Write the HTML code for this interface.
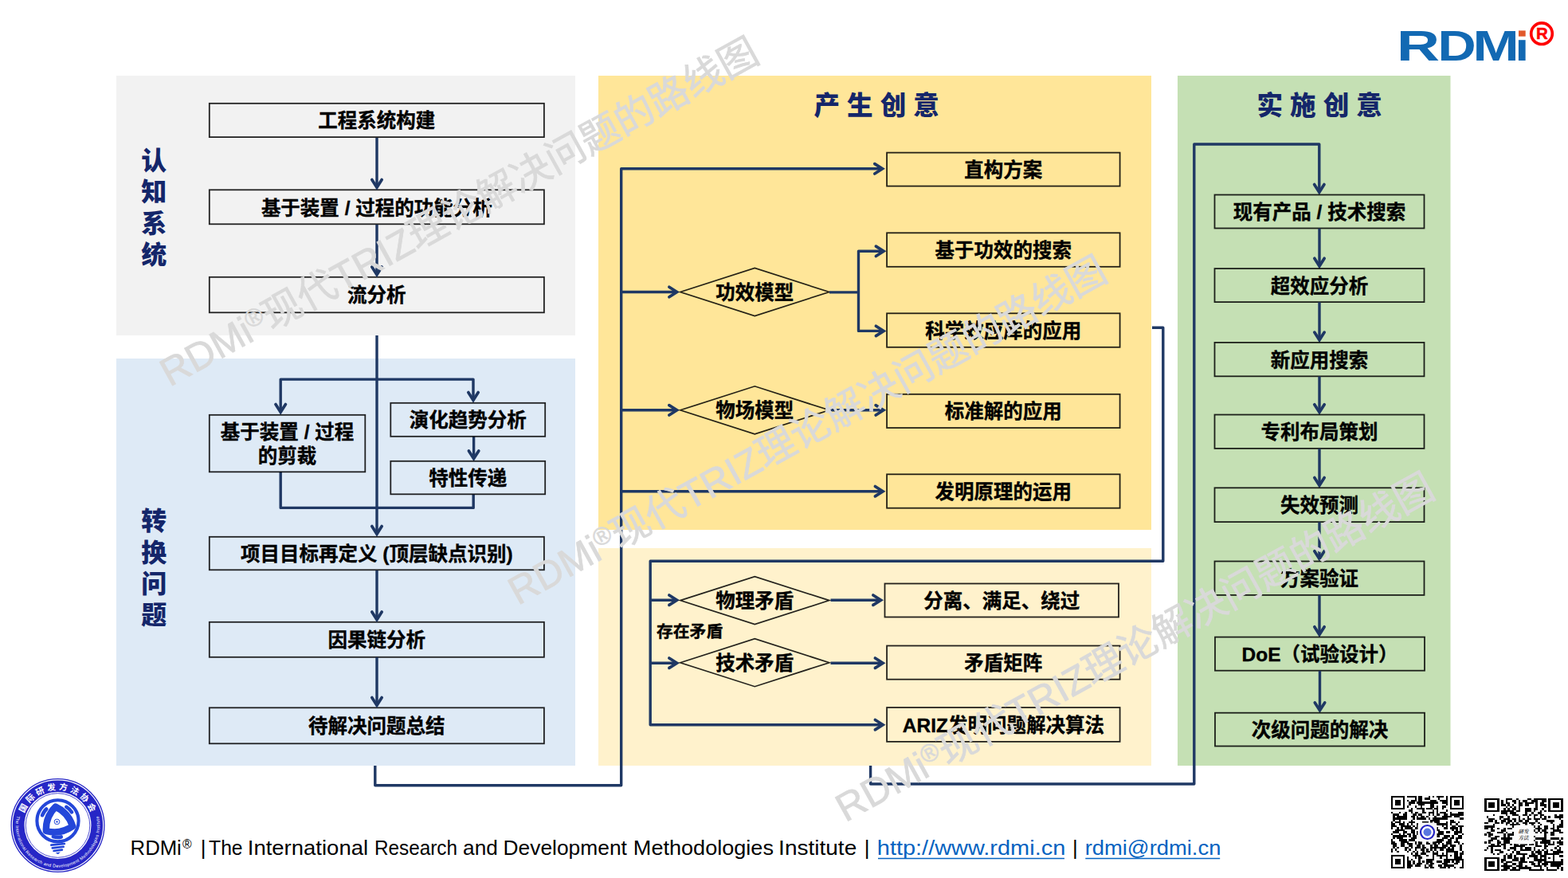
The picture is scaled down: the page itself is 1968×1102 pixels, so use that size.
<!DOCTYPE html>
<html lang="zh-CN">
<head>
<meta charset="utf-8">
<title>RDMi 现代TRIZ理论解决问题的路线图</title>
<style>
html,body{margin:0;padding:0;background:#fff;}
body{width:1968px;height:1102px;overflow:hidden;position:relative;}
svg{display:block;position:absolute;left:0;top:0;}
.bt{font-family:"Liberation Sans", "Noto Sans CJK SC", sans-serif;font-weight:bold;fill:#000;stroke:#000;stroke-width:0.35px;}
.tt{font-family:"Liberation Sans", "Noto Sans CJK SC", sans-serif;font-weight:900;font-size:32px;fill:#14266a;}
.wm{font-family:"Liberation Sans", "Noto Sans CJK SC", sans-serif;font-weight:normal;fill:#d9d9d9;stroke:#d9d9d9;stroke-width:0.7px;}
.logo{font-family:"Liberation Sans", sans-serif;font-weight:bold;fill:#1269b3;}
.ft{font-family:"Liberation Sans", sans-serif;font-size:25px;fill:#000;}
.lk{fill:#0563c1;}
</style>
</head>
<body>
<svg width="1968" height="1102" viewBox="0 0 1968 1102">
<rect width="1968" height="1102" fill="#ffffff"/>
<!-- diagram -->
<rect x="146" y="95" width="576" height="326" fill="#f2f2f2"/>
<rect x="146" y="450" width="576" height="511" fill="#deeaf6"/>
<rect x="751" y="95" width="694" height="570" fill="#ffe699"/>
<rect x="751" y="688" width="694" height="273" fill="#fff2cc"/>
<rect x="1478" y="95" width="342.5" height="866" fill="#c5e0b4"/>
<rect x="262.80" y="129.80" width="420.10" height="42.30" fill="none" stroke="#000" stroke-opacity="0.86" stroke-width="1.8"/>
<text x="472.85" y="160.4" text-anchor="middle" class="bt" font-size="24.5">工程系统构建</text>
<rect x="262.80" y="238.30" width="420.10" height="43.00" fill="none" stroke="#000" stroke-opacity="0.86" stroke-width="1.8"/>
<text x="472.85" y="270.1" text-anchor="middle" class="bt" font-size="24.5">基于装置 / 过程的功能分析</text>
<rect x="262.80" y="347.80" width="420.10" height="44.50" fill="none" stroke="#000" stroke-opacity="0.86" stroke-width="1.8"/>
<text x="472.85" y="378.5" text-anchor="middle" class="bt" font-size="24.5">流分析</text>
<path d="M473 173 L473 234.7" fill="none" stroke="#1f3864" stroke-width="3.4" stroke-linejoin="round"/>
<path d="M466.80 225.50 L473.00 235.20 L479.20 225.50" fill="none" stroke="#1f3864" stroke-width="3.7" stroke-linecap="round" stroke-linejoin="miter"/>
<path d="M473 282 L473 344.2" fill="none" stroke="#1f3864" stroke-width="3.4" stroke-linejoin="round"/>
<path d="M466.80 335.00 L473.00 344.70 L479.20 335.00" fill="none" stroke="#1f3864" stroke-width="3.7" stroke-linecap="round" stroke-linejoin="miter"/>
<path d="M473 421 L473 669.7" fill="none" stroke="#1f3864" stroke-width="3.4" stroke-linejoin="round"/>
<path d="M466.80 660.50 L473.00 670.20 L479.20 660.50" fill="none" stroke="#1f3864" stroke-width="3.7" stroke-linecap="round" stroke-linejoin="miter"/>
<path d="M473 476.1 L352.2 476.1 L352.2 516.7" fill="none" stroke="#1f3864" stroke-width="3.4" stroke-linejoin="round"/>
<path d="M346.00 507.50 L352.20 517.20 L358.40 507.50" fill="none" stroke="#1f3864" stroke-width="3.7" stroke-linecap="round" stroke-linejoin="miter"/>
<path d="M473 476.1 L594 476.1 L594 501.7" fill="none" stroke="#1f3864" stroke-width="3.4" stroke-linejoin="round"/>
<path d="M587.80 492.50 L594.00 502.20 L600.20 492.50" fill="none" stroke="#1f3864" stroke-width="3.7" stroke-linecap="round" stroke-linejoin="miter"/>
<path d="M594.6 548 L594.6 575.1" fill="none" stroke="#1f3864" stroke-width="3.4" stroke-linejoin="round"/>
<path d="M588.40 565.90 L594.60 575.60 L600.80 565.90" fill="none" stroke="#1f3864" stroke-width="3.7" stroke-linecap="round" stroke-linejoin="miter"/>
<path d="M352.2 592 L352.2 637.4 L594.2 637.4 L594.2 620.5" fill="none" stroke="#1f3864" stroke-width="3.4" stroke-linejoin="round"/>
<rect x="262.80" y="520.80" width="195.50" height="71.50" fill="none" stroke="#000" stroke-opacity="0.86" stroke-width="1.8"/>
<text x="360.55" y="551.2" text-anchor="middle" class="bt" font-size="24.5">基于装置 / 过程</text>
<text x="360.55" y="580.8" text-anchor="middle" class="bt" font-size="24.5">的剪裁</text>
<rect x="490.30" y="505.80" width="193.90" height="42.00" fill="none" stroke="#000" stroke-opacity="0.86" stroke-width="1.8"/>
<text x="587.25" y="536.3" text-anchor="middle" class="bt" font-size="24.5">演化趋势分析</text>
<rect x="490.30" y="578.80" width="193.90" height="41.50" fill="none" stroke="#000" stroke-opacity="0.86" stroke-width="1.8"/>
<text x="587.25" y="609.0" text-anchor="middle" class="bt" font-size="24.5">特性传递</text>
<rect x="262.80" y="673.80" width="420.10" height="41.50" fill="none" stroke="#000" stroke-opacity="0.86" stroke-width="1.8"/>
<text x="472.85" y="704.3" text-anchor="middle" class="bt" font-size="24.5">项目目标再定义 (顶层缺点识别)</text>
<rect x="262.80" y="780.80" width="420.10" height="44.00" fill="none" stroke="#000" stroke-opacity="0.86" stroke-width="1.8"/>
<text x="472.85" y="811.7" text-anchor="middle" class="bt" font-size="24.5">因果链分析</text>
<rect x="262.80" y="888.30" width="420.10" height="45.00" fill="none" stroke="#000" stroke-opacity="0.86" stroke-width="1.8"/>
<text x="472.85" y="920.3" text-anchor="middle" class="bt" font-size="24.5">待解决问题总结</text>
<path d="M473 716 L473 777.2" fill="none" stroke="#1f3864" stroke-width="3.4" stroke-linejoin="round"/>
<path d="M466.80 768.00 L473.00 777.70 L479.20 768.00" fill="none" stroke="#1f3864" stroke-width="3.7" stroke-linecap="round" stroke-linejoin="miter"/>
<path d="M473 825 L473 884.7" fill="none" stroke="#1f3864" stroke-width="3.4" stroke-linejoin="round"/>
<path d="M466.80 875.50 L473.00 885.20 L479.20 875.50" fill="none" stroke="#1f3864" stroke-width="3.7" stroke-linecap="round" stroke-linejoin="miter"/>
<path d="M470.8 961 L470.8 985.7 L779.7 985.7 L779.7 211.8 L1107.0 211.8" fill="none" stroke="#1f3864" stroke-width="3.4" stroke-linejoin="round"/>
<path d="M1097.80 205.60 L1107.50 211.80 L1097.80 218.00" fill="none" stroke="#1f3864" stroke-width="3.7" stroke-linecap="round" stroke-linejoin="miter"/>
<path d="M779.7 366.5 L849.1 366.5" fill="none" stroke="#1f3864" stroke-width="3.4" stroke-linejoin="round"/>
<path d="M839.90 360.30 L849.60 366.50 L839.90 372.70" fill="none" stroke="#1f3864" stroke-width="3.7" stroke-linecap="round" stroke-linejoin="miter"/>
<path d="M779.7 514.8 L849.1 514.8" fill="none" stroke="#1f3864" stroke-width="3.4" stroke-linejoin="round"/>
<path d="M839.90 508.60 L849.60 514.80 L839.90 521.00" fill="none" stroke="#1f3864" stroke-width="3.7" stroke-linecap="round" stroke-linejoin="miter"/>
<path d="M779.7 616.7 L1107.6000000000001 616.7" fill="none" stroke="#1f3864" stroke-width="3.4" stroke-linejoin="round"/>
<path d="M1098.40 610.50 L1108.10 616.70 L1098.40 622.90" fill="none" stroke="#1f3864" stroke-width="3.7" stroke-linecap="round" stroke-linejoin="miter"/>
<path d="M853.8 366.5 L947.3 336.5 L1040.8 366.5 L947.3 396.5 Z" fill="none" stroke="#000" stroke-opacity="0.86" stroke-width="1.7"/>
<text x="947.3" y="376.0" text-anchor="middle" class="bt" font-size="24.5">功效模型</text>
<path d="M853.8 514.8 L947.3 484.79999999999995 L1040.8 514.8 L947.3 544.8 Z" fill="none" stroke="#000" stroke-opacity="0.86" stroke-width="1.7"/>
<text x="947.3" y="524.3" text-anchor="middle" class="bt" font-size="24.5">物场模型</text>
<path d="M1041 366.9 L1077.5 366.9" fill="none" stroke="#1f3864" stroke-width="3.4" stroke-linejoin="round"/>
<path d="M1077.5 366.9 L1077.5 315.3 L1108.6000000000001 315.3" fill="none" stroke="#1f3864" stroke-width="3.4" stroke-linejoin="round"/>
<path d="M1099.40 309.10 L1109.10 315.30 L1099.40 321.50" fill="none" stroke="#1f3864" stroke-width="3.7" stroke-linecap="round" stroke-linejoin="miter"/>
<path d="M1077.5 366.9 L1077.5 415.4 L1108.6000000000001 415.4" fill="none" stroke="#1f3864" stroke-width="3.4" stroke-linejoin="round"/>
<path d="M1099.40 409.20 L1109.10 415.40 L1099.40 421.60" fill="none" stroke="#1f3864" stroke-width="3.7" stroke-linecap="round" stroke-linejoin="miter"/>
<path d="M1041 514.8 L1108.4 514.8" fill="none" stroke="#1f3864" stroke-width="3.4" stroke-linejoin="round"/>
<path d="M1099.20 508.60 L1108.90 514.80 L1099.20 521.00" fill="none" stroke="#1f3864" stroke-width="3.7" stroke-linecap="round" stroke-linejoin="miter"/>
<rect x="1113.10" y="191.60" width="292.50" height="42.00" fill="none" stroke="#000" stroke-opacity="0.86" stroke-width="1.8"/>
<text x="1259.35" y="222.1" text-anchor="middle" class="bt" font-size="24.5">直构方案</text>
<rect x="1113.10" y="292.30" width="292.50" height="42.50" fill="none" stroke="#000" stroke-opacity="0.86" stroke-width="1.8"/>
<text x="1259.35" y="323.0" text-anchor="middle" class="bt" font-size="24.5">基于功效的搜索</text>
<rect x="1113.10" y="393.30" width="292.50" height="42.50" fill="none" stroke="#000" stroke-opacity="0.86" stroke-width="1.8"/>
<text x="1259.35" y="424.0" text-anchor="middle" class="bt" font-size="24.5">科学效应库的应用</text>
<rect x="1113.10" y="494.80" width="292.50" height="42.20" fill="none" stroke="#000" stroke-opacity="0.86" stroke-width="1.8"/>
<text x="1259.35" y="525.4" text-anchor="middle" class="bt" font-size="24.5">标准解的应用</text>
<rect x="1113.10" y="595.30" width="292.50" height="42.40" fill="none" stroke="#000" stroke-opacity="0.86" stroke-width="1.8"/>
<text x="1259.35" y="626.0" text-anchor="middle" class="bt" font-size="24.5">发明原理的运用</text>
<path d="M1446 411.3 L1459.8 411.3 L1459.8 704.3 L816.2 704.3 L816.2 909.7 L1107.6000000000001 909.7" fill="none" stroke="#1f3864" stroke-width="3.4" stroke-linejoin="round"/>
<path d="M1098.40 903.50 L1108.10 909.70 L1098.40 915.90" fill="none" stroke="#1f3864" stroke-width="3.7" stroke-linecap="round" stroke-linejoin="miter"/>
<path d="M816.2 753.2 L849.1 753.2" fill="none" stroke="#1f3864" stroke-width="3.4" stroke-linejoin="round"/>
<path d="M839.90 747.00 L849.60 753.20 L839.90 759.40" fill="none" stroke="#1f3864" stroke-width="3.7" stroke-linecap="round" stroke-linejoin="miter"/>
<path d="M816.2 832.2 L849.1 832.2" fill="none" stroke="#1f3864" stroke-width="3.4" stroke-linejoin="round"/>
<path d="M839.90 826.00 L849.60 832.20 L839.90 838.40" fill="none" stroke="#1f3864" stroke-width="3.7" stroke-linecap="round" stroke-linejoin="miter"/>
<path d="M853.8 753.6 L947.3 723.6 L1040.8 753.6 L947.3 783.6 Z" fill="none" stroke="#000" stroke-opacity="0.86" stroke-width="1.7"/>
<text x="947.3" y="763.1" text-anchor="middle" class="bt" font-size="24.5">物理矛盾</text>
<path d="M853.8 831.7 L947.3 801.7 L1040.8 831.7 L947.3 861.7 Z" fill="none" stroke="#000" stroke-opacity="0.86" stroke-width="1.7"/>
<text x="947.3" y="841.2" text-anchor="middle" class="bt" font-size="24.5">技术矛盾</text>
<path d="M1042.5 753.2 L1105.1000000000001 753.2" fill="none" stroke="#1f3864" stroke-width="3.4" stroke-linejoin="round"/>
<path d="M1095.90 747.00 L1105.60 753.20 L1095.90 759.40" fill="none" stroke="#1f3864" stroke-width="3.7" stroke-linecap="round" stroke-linejoin="miter"/>
<path d="M1042.5 832.2 L1107.6000000000001 832.2" fill="none" stroke="#1f3864" stroke-width="3.4" stroke-linejoin="round"/>
<path d="M1098.40 826.00 L1108.10 832.20 L1098.40 838.40" fill="none" stroke="#1f3864" stroke-width="3.7" stroke-linecap="round" stroke-linejoin="miter"/>
<text x="824" y="800" class="bt" font-size="20.8">存在矛盾</text>
<rect x="1110.50" y="732.50" width="293.50" height="42.00" fill="none" stroke="#000" stroke-opacity="0.86" stroke-width="1.8"/>
<text x="1257.25" y="763.0" text-anchor="middle" class="bt" font-size="24.5">分离、满足、绕过</text>
<rect x="1113.10" y="810.50" width="292.50" height="42.20" fill="none" stroke="#000" stroke-opacity="0.86" stroke-width="1.8"/>
<text x="1259.35" y="841.1" text-anchor="middle" class="bt" font-size="24.5">矛盾矩阵</text>
<rect x="1113.10" y="888.00" width="292.50" height="42.90" fill="none" stroke="#000" stroke-opacity="0.86" stroke-width="1.8"/>
<text x="1259.35" y="918.9" text-anchor="middle" class="bt" font-size="24.5">ARIZ发明问题解决算法</text>
<path d="M1092.6 961 L1092.6 984 L1498.8 984 L1498.8 181 L1655.8 181 L1655.8 240.7" fill="none" stroke="#1f3864" stroke-width="3.4" stroke-linejoin="round"/>
<path d="M1649.60 231.50 L1655.80 241.20 L1662.00 231.50" fill="none" stroke="#1f3864" stroke-width="3.7" stroke-linecap="round" stroke-linejoin="miter"/>
<rect x="1524.50" y="244.50" width="263.00" height="42.00" fill="none" stroke="#000" stroke-opacity="0.86" stroke-width="1.8"/>
<text x="1656.0" y="275.0" text-anchor="middle" class="bt" font-size="24.5">现有产品 / 技术搜索</text>
<path d="M1656 286.7 L1656 333.5" fill="none" stroke="#1f3864" stroke-width="3.4" stroke-linejoin="round"/>
<path d="M1649.80 324.30 L1656.00 334.00 L1662.20 324.30" fill="none" stroke="#1f3864" stroke-width="3.7" stroke-linecap="round" stroke-linejoin="miter"/>
<rect x="1524.50" y="337.10" width="263.00" height="42.00" fill="none" stroke="#000" stroke-opacity="0.86" stroke-width="1.8"/>
<text x="1656.0" y="367.6" text-anchor="middle" class="bt" font-size="24.5">超效应分析</text>
<path d="M1656 379.3 L1656 426.3" fill="none" stroke="#1f3864" stroke-width="3.4" stroke-linejoin="round"/>
<path d="M1649.80 417.10 L1656.00 426.80 L1662.20 417.10" fill="none" stroke="#1f3864" stroke-width="3.7" stroke-linecap="round" stroke-linejoin="miter"/>
<rect x="1524.50" y="429.90" width="263.00" height="42.40" fill="none" stroke="#000" stroke-opacity="0.86" stroke-width="1.8"/>
<text x="1656.0" y="460.6" text-anchor="middle" class="bt" font-size="24.5">新应用搜索</text>
<path d="M1656 472.5 L1656 516.9000000000001" fill="none" stroke="#1f3864" stroke-width="3.4" stroke-linejoin="round"/>
<path d="M1649.80 507.70 L1656.00 517.40 L1662.20 507.70" fill="none" stroke="#1f3864" stroke-width="3.7" stroke-linecap="round" stroke-linejoin="miter"/>
<rect x="1524.50" y="520.50" width="263.00" height="42.40" fill="none" stroke="#000" stroke-opacity="0.86" stroke-width="1.8"/>
<text x="1656.0" y="551.2" text-anchor="middle" class="bt" font-size="24.5">专利布局策划</text>
<path d="M1656 563.1 L1656 608.7" fill="none" stroke="#1f3864" stroke-width="3.4" stroke-linejoin="round"/>
<path d="M1649.80 599.50 L1656.00 609.20 L1662.20 599.50" fill="none" stroke="#1f3864" stroke-width="3.7" stroke-linecap="round" stroke-linejoin="miter"/>
<rect x="1524.50" y="612.30" width="263.00" height="42.80" fill="none" stroke="#000" stroke-opacity="0.86" stroke-width="1.8"/>
<text x="1656.0" y="643.2" text-anchor="middle" class="bt" font-size="24.5">失效预测</text>
<path d="M1656 655.3 L1656 700.9000000000001" fill="none" stroke="#1f3864" stroke-width="3.4" stroke-linejoin="round"/>
<path d="M1649.80 691.70 L1656.00 701.40 L1662.20 691.70" fill="none" stroke="#1f3864" stroke-width="3.7" stroke-linecap="round" stroke-linejoin="miter"/>
<rect x="1524.50" y="704.50" width="263.00" height="42.40" fill="none" stroke="#000" stroke-opacity="0.86" stroke-width="1.8"/>
<text x="1656.0" y="735.2" text-anchor="middle" class="bt" font-size="24.5">方案验证</text>
<path d="M1656 747.1 L1656 796.0" fill="none" stroke="#1f3864" stroke-width="3.4" stroke-linejoin="round"/>
<path d="M1649.80 786.80 L1656.00 796.50 L1662.20 786.80" fill="none" stroke="#1f3864" stroke-width="3.7" stroke-linecap="round" stroke-linejoin="miter"/>
<rect x="1525.00" y="799.60" width="263.00" height="42.10" fill="none" stroke="#000" stroke-opacity="0.86" stroke-width="1.8"/>
<text x="1656.5" y="830.1" text-anchor="middle" class="bt" font-size="24.5">DoE（试验设计）</text>
<path d="M1656.5 841.9 L1656.5 891.1" fill="none" stroke="#1f3864" stroke-width="3.4" stroke-linejoin="round"/>
<path d="M1650.30 881.90 L1656.50 891.60 L1662.70 881.90" fill="none" stroke="#1f3864" stroke-width="3.7" stroke-linecap="round" stroke-linejoin="miter"/>
<rect x="1525.00" y="894.70" width="263.00" height="41.80" fill="none" stroke="#000" stroke-opacity="0.86" stroke-width="1.8"/>
<text x="1656.5" y="925.1" text-anchor="middle" class="bt" font-size="24.5">次级问题的解决</text>
<text x="193.3" y="212.7" text-anchor="middle" class="tt">认</text>
<text x="193.3" y="252.1" text-anchor="middle" class="tt">知</text>
<text x="193.3" y="291.5" text-anchor="middle" class="tt">系</text>
<text x="193.3" y="330.9" text-anchor="middle" class="tt">统</text>
<text x="193.3" y="665.2" text-anchor="middle" class="tt">转</text>
<text x="193.3" y="704.6" text-anchor="middle" class="tt">换</text>
<text x="193.3" y="744.0" text-anchor="middle" class="tt">问</text>
<text x="193.3" y="783.4" text-anchor="middle" class="tt">题</text>
<text x="1100.2" y="143.8" text-anchor="middle" class="tt" style="white-space:pre;font-size:32.6px">产 生 创 意</text>
<text x="1656.2" y="143.8" text-anchor="middle" class="tt" style="white-space:pre;font-size:32.6px">实 施 创 意</text>
<!-- logo -->
<g>
<text y="75.7" class="logo" font-size="54.2"><tspan x="1752.99" textLength="54.04" lengthAdjust="spacingAndGlyphs">R</tspan><tspan x="1804.44" textLength="48.16" lengthAdjust="spacingAndGlyphs">D</tspan><tspan x="1848.63" textLength="58.14" lengthAdjust="spacingAndGlyphs">M</tspan><tspan x="1901.57" textLength="17.62" lengthAdjust="spacingAndGlyphs">i</tspan></text>
<rect x="1904.5" y="34" width="12" height="16.2" fill="#fff"/>
<rect x="1906" y="38.4" width="8.7" height="7.3" fill="#e1582a"/>
<circle cx="1935" cy="42.2" r="13.3" fill="none" stroke="#ff0000" stroke-width="3.7"/>
<text x="1935.3" y="48.9" text-anchor="middle" font-family="'Liberation Sans', sans-serif" font-weight="bold" font-size="20.5" fill="#ff0000" stroke="#ff0000" stroke-width="0.5">R</text>
</g>
<!-- emblem -->
<g>
<circle cx="72.5" cy="1036" r="58.4" fill="#fff" stroke="#2626c6" stroke-width="1.3"/>
<circle cx="72.5" cy="1036" r="49.3" fill="none" stroke="#2626c6" stroke-width="14.6"/>
<circle cx="72.5" cy="1036" r="40.3" fill="none" stroke="#2626c6" stroke-width="0.8"/>
<defs><path id="arcT" d="M27.90 1036.00 A44.6 44.6 0 0 1 117.10 1036.00"/><path id="arcB" d="M22.98 1017.98 A52.7 52.7 0 1 0 122.02 1017.98"/></defs>
<text font-family='"Liberation Sans", "Noto Sans CJK SC", sans-serif' font-weight="bold" font-size="10.6" fill="#fff" letter-spacing="3.3"><textPath href="#arcT" startOffset="50.8%" text-anchor="middle">国际研发方法协会</textPath></text>
<text font-family="'Liberation Sans', sans-serif" font-size="5.5" fill="#fff" letter-spacing="0.3"><textPath href="#arcB" startOffset="50%" text-anchor="middle">The International Research and Development Methodologies Institute</textPath></text>
<circle cx="72.5" cy="1030.3" r="26.1" fill="none" stroke="#2447d9" stroke-width="4.1"/>
<path d="M72.9 1012.4 A40 40 0 0 1 89.7 1040.2 A40 40 0 0 1 55.9 1040.2 A40 40 0 0 1 72.9 1012.4 Z" fill="none" stroke="#2447d9" stroke-width="8.4" stroke-linejoin="round" transform="rotate(-10 72.5 1030.3)"/>
<path d="M53.14 1023.25 A20.6 20.6 0 0 1 58.19 1015.48" fill="none" stroke="#2447d9" stroke-width="4.6" stroke-linecap="round"/>
<path d="M83.42 1012.83 A20.6 20.6 0 0 1 89.97 1019.38" fill="none" stroke="#2447d9" stroke-width="4.6" stroke-linecap="round"/>
<path d="M76.78 1050.45 A20.6 20.6 0 0 1 66.82 1050.10" fill="none" stroke="#2447d9" stroke-width="4.6" stroke-linecap="round"/>
<circle cx="71.5" cy="1031.4" r="3.3" fill="#fff" stroke="#2447d9" stroke-width="1"/>
<circle cx="71.5" cy="1031.4" r="1.2" fill="#2447d9"/>
<path d="M64.3 1060.6 l16.6 -1.6 M65.7 1064.4 l14 -1.6 M67.5 1068 l10.4 -1.4" stroke="#2447d9" stroke-width="2.6" stroke-linecap="round" fill="none"/>
<path d="M69.5 1070.2 l6.4 -0.8 l-3 2.8 z" fill="#2447d9"/>
</g>
<!-- footer -->
<text class="ft"><tspan x="163.59" y="1073.4" textLength="64.24" lengthAdjust="spacingAndGlyphs">RDMi</tspan> <tspan x="229.06" y="1064.8" font-size="15.72">®</tspan> <tspan x="251.72" y="1072.8" font-size="26">|</tspan> <tspan x="262.05" y="1073.4" textLength="42.55" lengthAdjust="spacingAndGlyphs">The</tspan> <tspan x="310.76" y="1073.4" textLength="151.38" lengthAdjust="spacingAndGlyphs">International</tspan> <tspan x="469.91" y="1073.4" textLength="104.07" lengthAdjust="spacingAndGlyphs">Research</tspan> <tspan x="581.09" y="1073.4" textLength="43.70" lengthAdjust="spacingAndGlyphs">and</tspan> <tspan x="631.54" y="1073.4" textLength="155.36" lengthAdjust="spacingAndGlyphs">Development</tspan> <tspan x="794.88" y="1073.4" textLength="176.10" lengthAdjust="spacingAndGlyphs">Methodologies</tspan> <tspan x="977.11" y="1073.4" textLength="98.13" lengthAdjust="spacingAndGlyphs">Institute</tspan> <tspan x="1084.72" y="1072.8" font-size="26">|</tspan> <tspan x="1100.81" y="1073.4" class="lk" textLength="236.46" lengthAdjust="spacingAndGlyphs">http://www.rdmi.cn</tspan> <tspan x="1345.97" y="1072.8" font-size="26">|</tspan> <tspan x="1361.68" y="1073.4" class="lk" textLength="170.69" lengthAdjust="spacingAndGlyphs">rdmi@rdmi.cn</tspan></text>
<path d="M1102 1077.4H1336 M1362.3 1077.4H1531.2" stroke="#0563c1" stroke-width="1.5" fill="none"/>
<!-- qr -->
<g>
<path d="M1746.00 999.00h17.22v2.46h-17.22zM1765.68 999.00h12.30v2.46h-12.30zM1780.43 999.00h4.92v2.46h-4.92zM1792.73 999.00h2.46v2.46h-2.46zM1797.65 999.00h2.46v2.46h-2.46zM1802.57 999.00h9.84v2.46h-9.84zM1814.86 999.00h2.46v2.46h-2.46zM1819.78 999.00h17.22v2.46h-17.22zM1746.00 1001.46h2.46v2.46h-2.46zM1760.76 1001.46h2.46v2.46h-2.46zM1775.51 1001.46h2.46v2.46h-2.46zM1780.43 1001.46h4.92v2.46h-4.92zM1787.81 1001.46h7.38v2.46h-7.38zM1805.03 1001.46h2.46v2.46h-2.46zM1814.86 1001.46h2.46v2.46h-2.46zM1819.78 1001.46h2.46v2.46h-2.46zM1834.54 1001.46h2.46v2.46h-2.46zM1746.00 1003.92h2.46v2.46h-2.46zM1750.92 1003.92h7.38v2.46h-7.38zM1760.76 1003.92h2.46v2.46h-2.46zM1765.68 1003.92h2.46v2.46h-2.46zM1770.59 1003.92h7.38v2.46h-7.38zM1780.43 1003.92h4.92v2.46h-4.92zM1795.19 1003.92h7.38v2.46h-7.38zM1807.49 1003.92h9.84v2.46h-9.84zM1819.78 1003.92h2.46v2.46h-2.46zM1824.70 1003.92h7.38v2.46h-7.38zM1834.54 1003.92h2.46v2.46h-2.46zM1746.00 1006.38h2.46v2.46h-2.46zM1750.92 1006.38h7.38v2.46h-7.38zM1760.76 1006.38h2.46v2.46h-2.46zM1768.14 1006.38h7.38v2.46h-7.38zM1777.97 1006.38h27.05v2.46h-27.05zM1809.95 1006.38h7.38v2.46h-7.38zM1819.78 1006.38h2.46v2.46h-2.46zM1824.70 1006.38h7.38v2.46h-7.38zM1834.54 1006.38h2.46v2.46h-2.46zM1746.00 1008.84h2.46v2.46h-2.46zM1750.92 1008.84h7.38v2.46h-7.38zM1760.76 1008.84h2.46v2.46h-2.46zM1768.14 1008.84h2.46v2.46h-2.46zM1780.43 1008.84h7.38v2.46h-7.38zM1795.19 1008.84h4.92v2.46h-4.92zM1814.86 1008.84h2.46v2.46h-2.46zM1819.78 1008.84h2.46v2.46h-2.46zM1824.70 1008.84h7.38v2.46h-7.38zM1834.54 1008.84h2.46v2.46h-2.46zM1746.00 1011.30h2.46v2.46h-2.46zM1760.76 1011.30h2.46v2.46h-2.46zM1765.68 1011.30h2.46v2.46h-2.46zM1775.51 1011.30h2.46v2.46h-2.46zM1782.89 1011.30h2.46v2.46h-2.46zM1795.19 1011.30h4.92v2.46h-4.92zM1802.57 1011.30h2.46v2.46h-2.46zM1809.95 1011.30h4.92v2.46h-4.92zM1819.78 1011.30h2.46v2.46h-2.46zM1834.54 1011.30h2.46v2.46h-2.46zM1746.00 1013.76h17.22v2.46h-17.22zM1770.59 1013.76h2.46v2.46h-2.46zM1777.97 1013.76h9.84v2.46h-9.84zM1790.27 1013.76h7.38v2.46h-7.38zM1800.11 1013.76h4.92v2.46h-4.92zM1809.95 1013.76h2.46v2.46h-2.46zM1819.78 1013.76h17.22v2.46h-17.22zM1768.14 1016.22h4.92v2.46h-4.92zM1785.35 1016.22h2.46v2.46h-2.46zM1797.65 1016.22h2.46v2.46h-2.46zM1802.57 1016.22h2.46v2.46h-2.46zM1814.86 1016.22h2.46v2.46h-2.46zM1746.00 1018.68h2.46v2.46h-2.46zM1755.84 1018.68h2.46v2.46h-2.46zM1763.22 1018.68h2.46v2.46h-2.46zM1770.59 1018.68h2.46v2.46h-2.46zM1775.51 1018.68h4.92v2.46h-4.92zM1785.35 1018.68h4.92v2.46h-4.92zM1792.73 1018.68h7.38v2.46h-7.38zM1802.57 1018.68h2.46v2.46h-2.46zM1807.49 1018.68h7.38v2.46h-7.38zM1819.78 1018.68h2.46v2.46h-2.46zM1829.62 1018.68h7.38v2.46h-7.38zM1748.46 1021.14h7.38v2.46h-7.38zM1760.76 1021.14h4.92v2.46h-4.92zM1773.05 1021.14h4.92v2.46h-4.92zM1780.43 1021.14h4.92v2.46h-4.92zM1792.73 1021.14h2.46v2.46h-2.46zM1797.65 1021.14h2.46v2.46h-2.46zM1802.57 1021.14h4.92v2.46h-4.92zM1812.41 1021.14h4.92v2.46h-4.92zM1819.78 1021.14h17.22v2.46h-17.22zM1748.46 1023.59h2.46v2.46h-2.46zM1753.38 1023.59h12.30v2.46h-12.30zM1770.59 1023.59h4.92v2.46h-4.92zM1777.97 1023.59h2.46v2.46h-2.46zM1782.89 1023.59h4.92v2.46h-4.92zM1790.27 1023.59h2.46v2.46h-2.46zM1800.11 1023.59h2.46v2.46h-2.46zM1809.95 1023.59h12.30v2.46h-12.30zM1824.70 1023.59h7.38v2.46h-7.38zM1748.46 1026.05h17.22v2.46h-17.22zM1773.05 1026.05h2.46v2.46h-2.46zM1777.97 1026.05h12.30v2.46h-12.30zM1792.73 1026.05h2.46v2.46h-2.46zM1797.65 1026.05h19.68v2.46h-19.68zM1832.08 1026.05h4.92v2.46h-4.92zM1748.46 1028.51h2.46v2.46h-2.46zM1755.84 1028.51h2.46v2.46h-2.46zM1770.59 1028.51h2.46v2.46h-2.46zM1795.19 1028.51h12.30v2.46h-12.30zM1819.78 1028.51h4.92v2.46h-4.92zM1746.00 1030.97h2.46v2.46h-2.46zM1750.92 1030.97h7.38v2.46h-7.38zM1760.76 1030.97h2.46v2.46h-2.46zM1768.14 1030.97h7.38v2.46h-7.38zM1785.35 1030.97h7.38v2.46h-7.38zM1795.19 1030.97h2.46v2.46h-2.46zM1800.11 1030.97h7.38v2.46h-7.38zM1814.86 1030.97h2.46v2.46h-2.46zM1819.78 1030.97h7.38v2.46h-7.38zM1829.62 1030.97h2.46v2.46h-2.46zM1746.00 1033.43h4.92v2.46h-4.92zM1755.84 1033.43h7.38v2.46h-7.38zM1765.68 1033.43h2.46v2.46h-2.46zM1770.59 1033.43h2.46v2.46h-2.46zM1777.97 1033.43h2.46v2.46h-2.46zM1802.57 1033.43h14.76v2.46h-14.76zM1819.78 1033.43h2.46v2.46h-2.46zM1827.16 1033.43h2.46v2.46h-2.46zM1746.00 1035.89h7.38v2.46h-7.38zM1758.30 1035.89h12.30v2.46h-12.30zM1773.05 1035.89h2.46v2.46h-2.46zM1777.97 1035.89h2.46v2.46h-2.46zM1809.95 1035.89h2.46v2.46h-2.46zM1814.86 1035.89h2.46v2.46h-2.46zM1822.24 1035.89h4.92v2.46h-4.92zM1829.62 1035.89h7.38v2.46h-7.38zM1746.00 1038.35h2.46v2.46h-2.46zM1753.38 1038.35h2.46v2.46h-2.46zM1758.30 1038.35h2.46v2.46h-2.46zM1763.22 1038.35h9.84v2.46h-9.84zM1775.51 1038.35h4.92v2.46h-4.92zM1802.57 1038.35h2.46v2.46h-2.46zM1812.41 1038.35h4.92v2.46h-4.92zM1819.78 1038.35h9.84v2.46h-9.84zM1832.08 1038.35h2.46v2.46h-2.46zM1750.92 1040.81h12.30v2.46h-12.30zM1770.59 1040.81h4.92v2.46h-4.92zM1802.57 1040.81h4.92v2.46h-4.92zM1822.24 1040.81h2.46v2.46h-2.46zM1827.16 1040.81h2.46v2.46h-2.46zM1832.08 1040.81h2.46v2.46h-2.46zM1748.46 1043.27h7.38v2.46h-7.38zM1760.76 1043.27h4.92v2.46h-4.92zM1770.59 1043.27h4.92v2.46h-4.92zM1777.97 1043.27h2.46v2.46h-2.46zM1805.03 1043.27h7.38v2.46h-7.38zM1814.86 1043.27h4.92v2.46h-4.92zM1824.70 1043.27h9.84v2.46h-9.84zM1746.00 1045.73h2.46v2.46h-2.46zM1755.84 1045.73h2.46v2.46h-2.46zM1760.76 1045.73h2.46v2.46h-2.46zM1765.68 1045.73h4.92v2.46h-4.92zM1773.05 1045.73h2.46v2.46h-2.46zM1777.97 1045.73h2.46v2.46h-2.46zM1802.57 1045.73h9.84v2.46h-9.84zM1824.70 1045.73h4.92v2.46h-4.92zM1834.54 1045.73h2.46v2.46h-2.46zM1748.46 1048.19h17.22v2.46h-17.22zM1768.14 1048.19h2.46v2.46h-2.46zM1773.05 1048.19h4.92v2.46h-4.92zM1802.57 1048.19h4.92v2.46h-4.92zM1812.41 1048.19h7.38v2.46h-7.38zM1822.24 1048.19h2.46v2.46h-2.46zM1829.62 1048.19h4.92v2.46h-4.92zM1748.46 1050.65h2.46v2.46h-2.46zM1753.38 1050.65h7.38v2.46h-7.38zM1770.59 1050.65h7.38v2.46h-7.38zM1809.95 1050.65h7.38v2.46h-7.38zM1819.78 1050.65h4.92v2.46h-4.92zM1827.16 1050.65h7.38v2.46h-7.38zM1746.00 1053.11h2.46v2.46h-2.46zM1755.84 1053.11h9.84v2.46h-9.84zM1768.14 1053.11h7.38v2.46h-7.38zM1802.57 1053.11h9.84v2.46h-9.84zM1817.32 1053.11h4.92v2.46h-4.92zM1827.16 1053.11h2.46v2.46h-2.46zM1746.00 1055.57h4.92v2.46h-4.92zM1758.30 1055.57h9.84v2.46h-9.84zM1775.51 1055.57h2.46v2.46h-2.46zM1780.43 1055.57h4.92v2.46h-4.92zM1790.27 1055.57h2.46v2.46h-2.46zM1797.65 1055.57h12.30v2.46h-12.30zM1814.86 1055.57h7.38v2.46h-7.38zM1824.70 1055.57h7.38v2.46h-7.38zM1746.00 1058.03h7.38v2.46h-7.38zM1758.30 1058.03h4.92v2.46h-4.92zM1765.68 1058.03h7.38v2.46h-7.38zM1775.51 1058.03h2.46v2.46h-2.46zM1780.43 1058.03h4.92v2.46h-4.92zM1790.27 1058.03h4.92v2.46h-4.92zM1797.65 1058.03h4.92v2.46h-4.92zM1805.03 1058.03h2.46v2.46h-2.46zM1809.95 1058.03h2.46v2.46h-2.46zM1814.86 1058.03h7.38v2.46h-7.38zM1829.62 1058.03h2.46v2.46h-2.46zM1834.54 1058.03h2.46v2.46h-2.46zM1748.46 1060.49h4.92v2.46h-4.92zM1758.30 1060.49h4.92v2.46h-4.92zM1768.14 1060.49h4.92v2.46h-4.92zM1777.97 1060.49h4.92v2.46h-4.92zM1785.35 1060.49h2.46v2.46h-2.46zM1795.19 1060.49h2.46v2.46h-2.46zM1800.11 1060.49h4.92v2.46h-4.92zM1809.95 1060.49h7.38v2.46h-7.38zM1819.78 1060.49h7.38v2.46h-7.38zM1832.08 1060.49h2.46v2.46h-2.46zM1748.46 1062.95h2.46v2.46h-2.46zM1753.38 1062.95h2.46v2.46h-2.46zM1763.22 1062.95h4.92v2.46h-4.92zM1770.59 1062.95h2.46v2.46h-2.46zM1775.51 1062.95h7.38v2.46h-7.38zM1785.35 1062.95h4.92v2.46h-4.92zM1795.19 1062.95h19.68v2.46h-19.68zM1817.32 1062.95h2.46v2.46h-2.46zM1822.24 1062.95h2.46v2.46h-2.46zM1832.08 1062.95h2.46v2.46h-2.46zM1746.00 1065.41h2.46v2.46h-2.46zM1750.92 1065.41h2.46v2.46h-2.46zM1763.22 1065.41h2.46v2.46h-2.46zM1768.14 1065.41h2.46v2.46h-2.46zM1775.51 1065.41h2.46v2.46h-2.46zM1782.89 1065.41h4.92v2.46h-4.92zM1790.27 1065.41h2.46v2.46h-2.46zM1795.19 1065.41h2.46v2.46h-2.46zM1800.11 1065.41h2.46v2.46h-2.46zM1807.49 1065.41h4.92v2.46h-4.92zM1814.86 1065.41h9.84v2.46h-9.84zM1832.08 1065.41h2.46v2.46h-2.46zM1746.00 1067.86h2.46v2.46h-2.46zM1753.38 1067.86h2.46v2.46h-2.46zM1765.68 1067.86h2.46v2.46h-2.46zM1773.05 1067.86h2.46v2.46h-2.46zM1777.97 1067.86h2.46v2.46h-2.46zM1785.35 1067.86h2.46v2.46h-2.46zM1790.27 1067.86h4.92v2.46h-4.92zM1797.65 1067.86h2.46v2.46h-2.46zM1802.57 1067.86h2.46v2.46h-2.46zM1814.86 1067.86h14.76v2.46h-14.76zM1834.54 1067.86h2.46v2.46h-2.46zM1770.59 1070.32h2.46v2.46h-2.46zM1775.51 1070.32h4.92v2.46h-4.92zM1782.89 1070.32h7.38v2.46h-7.38zM1797.65 1070.32h7.38v2.46h-7.38zM1809.95 1070.32h2.46v2.46h-2.46zM1814.86 1070.32h2.46v2.46h-2.46zM1824.70 1070.32h4.92v2.46h-4.92zM1832.08 1070.32h4.92v2.46h-4.92zM1746.00 1072.78h17.22v2.46h-17.22zM1773.05 1072.78h9.84v2.46h-9.84zM1790.27 1072.78h2.46v2.46h-2.46zM1797.65 1072.78h2.46v2.46h-2.46zM1802.57 1072.78h14.76v2.46h-14.76zM1819.78 1072.78h2.46v2.46h-2.46zM1824.70 1072.78h4.92v2.46h-4.92zM1832.08 1072.78h2.46v2.46h-2.46zM1746.00 1075.24h2.46v2.46h-2.46zM1760.76 1075.24h2.46v2.46h-2.46zM1765.68 1075.24h2.46v2.46h-2.46zM1775.51 1075.24h2.46v2.46h-2.46zM1780.43 1075.24h4.92v2.46h-4.92zM1797.65 1075.24h2.46v2.46h-2.46zM1807.49 1075.24h2.46v2.46h-2.46zM1814.86 1075.24h2.46v2.46h-2.46zM1824.70 1075.24h9.84v2.46h-9.84zM1746.00 1077.70h2.46v2.46h-2.46zM1750.92 1077.70h7.38v2.46h-7.38zM1760.76 1077.70h2.46v2.46h-2.46zM1765.68 1077.70h2.46v2.46h-2.46zM1770.59 1077.70h2.46v2.46h-2.46zM1780.43 1077.70h2.46v2.46h-2.46zM1790.27 1077.70h9.84v2.46h-9.84zM1812.41 1077.70h24.59v2.46h-24.59zM1746.00 1080.16h2.46v2.46h-2.46zM1750.92 1080.16h7.38v2.46h-7.38zM1760.76 1080.16h2.46v2.46h-2.46zM1765.68 1080.16h4.92v2.46h-4.92zM1773.05 1080.16h2.46v2.46h-2.46zM1780.43 1080.16h2.46v2.46h-2.46zM1785.35 1080.16h2.46v2.46h-2.46zM1790.27 1080.16h7.38v2.46h-7.38zM1802.57 1080.16h7.38v2.46h-7.38zM1812.41 1080.16h7.38v2.46h-7.38zM1822.24 1080.16h2.46v2.46h-2.46zM1827.16 1080.16h4.92v2.46h-4.92zM1834.54 1080.16h2.46v2.46h-2.46zM1746.00 1082.62h2.46v2.46h-2.46zM1750.92 1082.62h7.38v2.46h-7.38zM1760.76 1082.62h2.46v2.46h-2.46zM1765.68 1082.62h4.92v2.46h-4.92zM1773.05 1082.62h2.46v2.46h-2.46zM1777.97 1082.62h7.38v2.46h-7.38zM1790.27 1082.62h2.46v2.46h-2.46zM1795.19 1082.62h4.92v2.46h-4.92zM1809.95 1082.62h7.38v2.46h-7.38zM1824.70 1082.62h4.92v2.46h-4.92zM1834.54 1082.62h2.46v2.46h-2.46zM1746.00 1085.08h2.46v2.46h-2.46zM1760.76 1085.08h2.46v2.46h-2.46zM1765.68 1085.08h7.38v2.46h-7.38zM1775.51 1085.08h7.38v2.46h-7.38zM1787.81 1085.08h2.46v2.46h-2.46zM1792.73 1085.08h4.92v2.46h-4.92zM1805.03 1085.08h4.92v2.46h-4.92zM1812.41 1085.08h12.30v2.46h-12.30zM1834.54 1085.08h2.46v2.46h-2.46zM1746.00 1087.54h17.22v2.46h-17.22zM1765.68 1087.54h4.92v2.46h-4.92zM1787.81 1087.54h4.92v2.46h-4.92zM1795.19 1087.54h4.92v2.46h-4.92zM1807.49 1087.54h7.38v2.46h-7.38zM1817.32 1087.54h2.46v2.46h-2.46zM1824.70 1087.54h2.46v2.46h-2.46zM1832.08 1087.54h4.92v2.46h-4.92z" fill="#000" shape-rendering="crispEdges"/>
<rect x="1779.5" y="1032.5" width="24" height="24" rx="4" fill="#f7f7f7"/>
<circle cx="1791.5" cy="1044.5" r="8.5" fill="#fff" stroke="#2323c4" stroke-width="2.2"/>
<circle cx="1791.5" cy="1044.5" r="5" fill="#5a78e0"/>
<path d="M1863.00 1002.00h18.73v2.46h-18.73zM1889.76 1002.00h8.03v2.46h-8.03zM1903.14 1002.00h2.68v2.46h-2.68zM1916.51 1002.00h5.35v2.46h-5.35zM1924.54 1002.00h16.05v2.46h-16.05zM1943.27 1002.00h18.73v2.46h-18.73zM1863.00 1004.46h2.68v2.46h-2.68zM1879.05 1004.46h2.68v2.46h-2.68zM1884.41 1004.46h2.68v2.46h-2.68zM1889.76 1004.46h2.68v2.46h-2.68zM1897.78 1004.46h5.35v2.46h-5.35zM1905.81 1004.46h2.68v2.46h-2.68zM1911.16 1004.46h5.35v2.46h-5.35zM1921.86 1004.46h8.03v2.46h-8.03zM1935.24 1004.46h5.35v2.46h-5.35zM1943.27 1004.46h2.68v2.46h-2.68zM1959.32 1004.46h2.68v2.46h-2.68zM1863.00 1006.92h2.68v2.46h-2.68zM1868.35 1006.92h8.03v2.46h-8.03zM1879.05 1006.92h2.68v2.46h-2.68zM1884.41 1006.92h2.68v2.46h-2.68zM1889.76 1006.92h5.35v2.46h-5.35zM1900.46 1006.92h2.68v2.46h-2.68zM1905.81 1006.92h5.35v2.46h-5.35zM1913.84 1006.92h10.70v2.46h-10.70zM1927.22 1006.92h2.68v2.46h-2.68zM1932.57 1006.92h5.35v2.46h-5.35zM1943.27 1006.92h2.68v2.46h-2.68zM1948.62 1006.92h8.03v2.46h-8.03zM1959.32 1006.92h2.68v2.46h-2.68zM1863.00 1009.38h2.68v2.46h-2.68zM1868.35 1009.38h8.03v2.46h-8.03zM1879.05 1009.38h2.68v2.46h-2.68zM1884.41 1009.38h5.35v2.46h-5.35zM1892.43 1009.38h2.68v2.46h-2.68zM1897.78 1009.38h2.68v2.46h-2.68zM1905.81 1009.38h5.35v2.46h-5.35zM1913.84 1009.38h5.35v2.46h-5.35zM1927.22 1009.38h2.68v2.46h-2.68zM1932.57 1009.38h8.03v2.46h-8.03zM1943.27 1009.38h2.68v2.46h-2.68zM1948.62 1009.38h8.03v2.46h-8.03zM1959.32 1009.38h2.68v2.46h-2.68zM1863.00 1011.84h2.68v2.46h-2.68zM1868.35 1011.84h8.03v2.46h-8.03zM1879.05 1011.84h2.68v2.46h-2.68zM1889.76 1011.84h2.68v2.46h-2.68zM1895.11 1011.84h2.68v2.46h-2.68zM1900.46 1011.84h2.68v2.46h-2.68zM1905.81 1011.84h2.68v2.46h-2.68zM1927.22 1011.84h2.68v2.46h-2.68zM1937.92 1011.84h2.68v2.46h-2.68zM1943.27 1011.84h2.68v2.46h-2.68zM1948.62 1011.84h8.03v2.46h-8.03zM1959.32 1011.84h2.68v2.46h-2.68zM1863.00 1014.30h2.68v2.46h-2.68zM1879.05 1014.30h2.68v2.46h-2.68zM1887.08 1014.30h2.68v2.46h-2.68zM1892.43 1014.30h2.68v2.46h-2.68zM1897.78 1014.30h5.35v2.46h-5.35zM1905.81 1014.30h2.68v2.46h-2.68zM1913.84 1014.30h8.03v2.46h-8.03zM1924.54 1014.30h5.35v2.46h-5.35zM1935.24 1014.30h2.68v2.46h-2.68zM1943.27 1014.30h2.68v2.46h-2.68zM1959.32 1014.30h2.68v2.46h-2.68zM1863.00 1016.76h18.73v2.46h-18.73zM1884.41 1016.76h16.05v2.46h-16.05zM1903.14 1016.76h5.35v2.46h-5.35zM1913.84 1016.76h8.03v2.46h-8.03zM1924.54 1016.76h2.68v2.46h-2.68zM1932.57 1016.76h2.68v2.46h-2.68zM1937.92 1016.76h2.68v2.46h-2.68zM1943.27 1016.76h18.73v2.46h-18.73zM1884.41 1019.22h8.03v2.46h-8.03zM1895.11 1019.22h8.03v2.46h-8.03zM1913.84 1019.22h2.68v2.46h-2.68zM1921.86 1019.22h2.68v2.46h-2.68zM1929.89 1019.22h5.35v2.46h-5.35zM1873.70 1021.68h2.68v2.46h-2.68zM1889.76 1021.68h2.68v2.46h-2.68zM1897.78 1021.68h8.03v2.46h-8.03zM1911.16 1021.68h5.35v2.46h-5.35zM1919.19 1021.68h2.68v2.46h-2.68zM1924.54 1021.68h5.35v2.46h-5.35zM1932.57 1021.68h5.35v2.46h-5.35zM1951.30 1021.68h2.68v2.46h-2.68zM1956.65 1021.68h5.35v2.46h-5.35zM1865.68 1024.14h2.68v2.46h-2.68zM1881.73 1024.14h5.35v2.46h-5.35zM1892.43 1024.14h2.68v2.46h-2.68zM1905.81 1024.14h2.68v2.46h-2.68zM1916.51 1024.14h2.68v2.46h-2.68zM1924.54 1024.14h2.68v2.46h-2.68zM1932.57 1024.14h2.68v2.46h-2.68zM1937.92 1024.14h2.68v2.46h-2.68zM1943.27 1024.14h2.68v2.46h-2.68zM1951.30 1024.14h10.70v2.46h-10.70zM1868.35 1026.59h8.03v2.46h-8.03zM1881.73 1026.59h2.68v2.46h-2.68zM1887.08 1026.59h8.03v2.46h-8.03zM1897.78 1026.59h5.35v2.46h-5.35zM1905.81 1026.59h2.68v2.46h-2.68zM1911.16 1026.59h2.68v2.46h-2.68zM1916.51 1026.59h5.35v2.46h-5.35zM1924.54 1026.59h8.03v2.46h-8.03zM1935.24 1026.59h5.35v2.46h-5.35zM1956.65 1026.59h2.68v2.46h-2.68zM1868.35 1029.05h5.35v2.46h-5.35zM1876.38 1029.05h2.68v2.46h-2.68zM1884.41 1029.05h5.35v2.46h-5.35zM1892.43 1029.05h5.35v2.46h-5.35zM1900.46 1029.05h2.68v2.46h-2.68zM1905.81 1029.05h5.35v2.46h-5.35zM1913.84 1029.05h5.35v2.46h-5.35zM1927.22 1029.05h2.68v2.46h-2.68zM1940.59 1029.05h10.70v2.46h-10.70zM1959.32 1029.05h2.68v2.46h-2.68zM1863.00 1031.51h5.35v2.46h-5.35zM1876.38 1031.51h5.35v2.46h-5.35zM1884.41 1031.51h2.68v2.46h-2.68zM1889.76 1031.51h5.35v2.46h-5.35zM1897.78 1031.51h2.68v2.46h-2.68zM1903.14 1031.51h2.68v2.46h-2.68zM1911.16 1031.51h5.35v2.46h-5.35zM1919.19 1031.51h8.03v2.46h-8.03zM1929.89 1031.51h2.68v2.46h-2.68zM1945.95 1031.51h2.68v2.46h-2.68zM1959.32 1031.51h2.68v2.46h-2.68zM1873.70 1033.97h2.68v2.46h-2.68zM1889.76 1033.97h2.68v2.46h-2.68zM1895.11 1033.97h13.38v2.46h-13.38zM1913.84 1033.97h2.68v2.46h-2.68zM1921.86 1033.97h2.68v2.46h-2.68zM1932.57 1033.97h2.68v2.46h-2.68zM1948.62 1033.97h2.68v2.46h-2.68zM1956.65 1033.97h5.35v2.46h-5.35zM1863.00 1036.43h13.38v2.46h-13.38zM1897.78 1036.43h2.68v2.46h-2.68zM1924.54 1036.43h2.68v2.46h-2.68zM1929.89 1036.43h2.68v2.46h-2.68zM1937.92 1036.43h5.35v2.46h-5.35zM1948.62 1036.43h2.68v2.46h-2.68zM1953.97 1036.43h8.03v2.46h-8.03zM1863.00 1038.89h5.35v2.46h-5.35zM1871.03 1038.89h2.68v2.46h-2.68zM1879.05 1038.89h2.68v2.46h-2.68zM1887.08 1038.89h2.68v2.46h-2.68zM1892.43 1038.89h5.35v2.46h-5.35zM1927.22 1038.89h8.03v2.46h-8.03zM1937.92 1038.89h5.35v2.46h-5.35zM1945.95 1038.89h5.35v2.46h-5.35zM1953.97 1038.89h2.68v2.46h-2.68zM1871.03 1041.35h5.35v2.46h-5.35zM1884.41 1041.35h5.35v2.46h-5.35zM1924.54 1041.35h2.68v2.46h-2.68zM1929.89 1041.35h2.68v2.46h-2.68zM1935.24 1041.35h5.35v2.46h-5.35zM1948.62 1041.35h10.70v2.46h-10.70zM1865.68 1043.81h5.35v2.46h-5.35zM1879.05 1043.81h8.03v2.46h-8.03zM1889.76 1043.81h2.68v2.46h-2.68zM1897.78 1043.81h2.68v2.46h-2.68zM1927.22 1043.81h2.68v2.46h-2.68zM1932.57 1043.81h2.68v2.46h-2.68zM1937.92 1043.81h5.35v2.46h-5.35zM1945.95 1043.81h5.35v2.46h-5.35zM1956.65 1043.81h5.35v2.46h-5.35zM1863.00 1046.27h2.68v2.46h-2.68zM1868.35 1046.27h5.35v2.46h-5.35zM1887.08 1046.27h2.68v2.46h-2.68zM1892.43 1046.27h8.03v2.46h-8.03zM1937.92 1046.27h2.68v2.46h-2.68zM1945.95 1046.27h5.35v2.46h-5.35zM1868.35 1048.73h2.68v2.46h-2.68zM1876.38 1048.73h5.35v2.46h-5.35zM1887.08 1048.73h2.68v2.46h-2.68zM1892.43 1048.73h2.68v2.46h-2.68zM1924.54 1048.73h2.68v2.46h-2.68zM1937.92 1048.73h2.68v2.46h-2.68zM1871.03 1051.19h8.03v2.46h-8.03zM1884.41 1051.19h13.38v2.46h-13.38zM1927.22 1051.19h13.38v2.46h-13.38zM1945.95 1051.19h10.70v2.46h-10.70zM1959.32 1051.19h2.68v2.46h-2.68zM1868.35 1053.65h5.35v2.46h-5.35zM1879.05 1053.65h2.68v2.46h-2.68zM1887.08 1053.65h8.03v2.46h-8.03zM1924.54 1053.65h2.68v2.46h-2.68zM1935.24 1053.65h10.70v2.46h-10.70zM1956.65 1053.65h2.68v2.46h-2.68zM1863.00 1056.11h2.68v2.46h-2.68zM1868.35 1056.11h2.68v2.46h-2.68zM1879.05 1056.11h5.35v2.46h-5.35zM1887.08 1056.11h8.03v2.46h-8.03zM1927.22 1056.11h2.68v2.46h-2.68zM1932.57 1056.11h13.38v2.46h-13.38zM1948.62 1056.11h2.68v2.46h-2.68zM1953.97 1056.11h8.03v2.46h-8.03zM1871.03 1058.57h5.35v2.46h-5.35zM1879.05 1058.57h2.68v2.46h-2.68zM1884.41 1058.57h5.35v2.46h-5.35zM1895.11 1058.57h2.68v2.46h-2.68zM1900.46 1058.57h5.35v2.46h-5.35zM1908.49 1058.57h8.03v2.46h-8.03zM1919.19 1058.57h5.35v2.46h-5.35zM1927.22 1058.57h2.68v2.46h-2.68zM1937.92 1058.57h2.68v2.46h-2.68zM1943.27 1058.57h8.03v2.46h-8.03zM1956.65 1058.57h5.35v2.46h-5.35zM1868.35 1061.03h16.05v2.46h-16.05zM1887.08 1061.03h2.68v2.46h-2.68zM1900.46 1061.03h13.38v2.46h-13.38zM1927.22 1061.03h8.03v2.46h-8.03zM1937.92 1061.03h5.35v2.46h-5.35zM1953.97 1061.03h2.68v2.46h-2.68zM1865.68 1063.49h2.68v2.46h-2.68zM1871.03 1063.49h2.68v2.46h-2.68zM1887.08 1063.49h2.68v2.46h-2.68zM1895.11 1063.49h8.03v2.46h-8.03zM1908.49 1063.49h2.68v2.46h-2.68zM1913.84 1063.49h8.03v2.46h-8.03zM1924.54 1063.49h2.68v2.46h-2.68zM1937.92 1063.49h2.68v2.46h-2.68zM1951.30 1063.49h2.68v2.46h-2.68zM1956.65 1063.49h2.68v2.46h-2.68zM1863.00 1065.95h2.68v2.46h-2.68zM1871.03 1065.95h2.68v2.46h-2.68zM1876.38 1065.95h8.03v2.46h-8.03zM1892.43 1065.95h2.68v2.46h-2.68zM1900.46 1065.95h2.68v2.46h-2.68zM1908.49 1065.95h13.38v2.46h-13.38zM1924.54 1065.95h2.68v2.46h-2.68zM1929.89 1065.95h2.68v2.46h-2.68zM1935.24 1065.95h2.68v2.46h-2.68zM1940.59 1065.95h2.68v2.46h-2.68zM1945.95 1065.95h2.68v2.46h-2.68zM1953.97 1065.95h5.35v2.46h-5.35zM1871.03 1068.41h2.68v2.46h-2.68zM1881.73 1068.41h5.35v2.46h-5.35zM1897.78 1068.41h2.68v2.46h-2.68zM1903.14 1068.41h5.35v2.46h-5.35zM1921.86 1068.41h2.68v2.46h-2.68zM1927.22 1068.41h8.03v2.46h-8.03zM1937.92 1068.41h5.35v2.46h-5.35zM1948.62 1068.41h13.38v2.46h-13.38zM1873.70 1070.86h2.68v2.46h-2.68zM1879.05 1070.86h2.68v2.46h-2.68zM1889.76 1070.86h2.68v2.46h-2.68zM1895.11 1070.86h2.68v2.46h-2.68zM1903.14 1070.86h13.38v2.46h-13.38zM1921.86 1070.86h5.35v2.46h-5.35zM1929.89 1070.86h5.35v2.46h-5.35zM1937.92 1070.86h18.73v2.46h-18.73zM1887.08 1073.32h2.68v2.46h-2.68zM1892.43 1073.32h5.35v2.46h-5.35zM1900.46 1073.32h2.68v2.46h-2.68zM1911.16 1073.32h2.68v2.46h-2.68zM1919.19 1073.32h10.70v2.46h-10.70zM1932.57 1073.32h8.03v2.46h-8.03zM1948.62 1073.32h2.68v2.46h-2.68zM1956.65 1073.32h5.35v2.46h-5.35zM1863.00 1075.78h18.73v2.46h-18.73zM1887.08 1075.78h2.68v2.46h-2.68zM1892.43 1075.78h5.35v2.46h-5.35zM1900.46 1075.78h5.35v2.46h-5.35zM1908.49 1075.78h5.35v2.46h-5.35zM1916.51 1075.78h2.68v2.46h-2.68zM1924.54 1075.78h5.35v2.46h-5.35zM1932.57 1075.78h2.68v2.46h-2.68zM1937.92 1075.78h2.68v2.46h-2.68zM1943.27 1075.78h2.68v2.46h-2.68zM1948.62 1075.78h2.68v2.46h-2.68zM1863.00 1078.24h2.68v2.46h-2.68zM1879.05 1078.24h2.68v2.46h-2.68zM1884.41 1078.24h5.35v2.46h-5.35zM1897.78 1078.24h8.03v2.46h-8.03zM1908.49 1078.24h5.35v2.46h-5.35zM1924.54 1078.24h16.05v2.46h-16.05zM1948.62 1078.24h2.68v2.46h-2.68zM1959.32 1078.24h2.68v2.46h-2.68zM1863.00 1080.70h2.68v2.46h-2.68zM1868.35 1080.70h8.03v2.46h-8.03zM1879.05 1080.70h2.68v2.46h-2.68zM1884.41 1080.70h2.68v2.46h-2.68zM1889.76 1080.70h8.03v2.46h-8.03zM1905.81 1080.70h10.70v2.46h-10.70zM1919.19 1080.70h5.35v2.46h-5.35zM1929.89 1080.70h5.35v2.46h-5.35zM1937.92 1080.70h24.08v2.46h-24.08zM1863.00 1083.16h2.68v2.46h-2.68zM1868.35 1083.16h8.03v2.46h-8.03zM1879.05 1083.16h2.68v2.46h-2.68zM1887.08 1083.16h5.35v2.46h-5.35zM1897.78 1083.16h5.35v2.46h-5.35zM1905.81 1083.16h5.35v2.46h-5.35zM1921.86 1083.16h5.35v2.46h-5.35zM1929.89 1083.16h2.68v2.46h-2.68zM1935.24 1083.16h8.03v2.46h-8.03zM1945.95 1083.16h16.05v2.46h-16.05zM1863.00 1085.62h2.68v2.46h-2.68zM1868.35 1085.62h8.03v2.46h-8.03zM1879.05 1085.62h2.68v2.46h-2.68zM1884.41 1085.62h13.38v2.46h-13.38zM1903.14 1085.62h8.03v2.46h-8.03zM1913.84 1085.62h2.68v2.46h-2.68zM1924.54 1085.62h10.70v2.46h-10.70zM1937.92 1085.62h2.68v2.46h-2.68zM1945.95 1085.62h13.38v2.46h-13.38zM1863.00 1088.08h2.68v2.46h-2.68zM1879.05 1088.08h2.68v2.46h-2.68zM1887.08 1088.08h8.03v2.46h-8.03zM1897.78 1088.08h5.35v2.46h-5.35zM1905.81 1088.08h16.05v2.46h-16.05zM1932.57 1088.08h2.68v2.46h-2.68zM1940.59 1088.08h2.68v2.46h-2.68zM1953.97 1088.08h2.68v2.46h-2.68zM1959.32 1088.08h2.68v2.46h-2.68zM1863.00 1090.54h18.73v2.46h-18.73zM1884.41 1090.54h8.03v2.46h-8.03zM1895.11 1090.54h13.38v2.46h-13.38zM1919.19 1090.54h18.73v2.46h-18.73zM1940.59 1090.54h13.38v2.46h-13.38zM1959.32 1090.54h2.68v2.46h-2.68z" fill="#000" shape-rendering="crispEdges"/>
<rect x="1900.0" y="1035.5" width="25" height="24" rx="4" fill="#fbfbfb"/>
<text font-family='"Liberation Serif", "Noto Serif CJK SC", serif' font-weight="bold" font-style="italic" font-size="6.6" fill="#333" text-anchor="middle"><tspan x="1912.0" y="1046.3">研发</tspan><tspan x="1912.0" y="1054.1">方法</tspan></text>
</g>
<!-- watermark -->
<text transform="translate(213 486) rotate(-28.9)" class="wm" font-size="49.4">RDMi<tspan font-size="31" dy="-15">®</tspan><tspan dy="15">现代TRIZ理论解决问题的路线图</tspan></text>
<text transform="translate(650 760.3) rotate(-28.9)" class="wm" font-size="49.4">RDMi<tspan font-size="31" dy="-15">®</tspan><tspan dy="15">现代TRIZ理论解决问题的路线图</tspan></text>
<text transform="translate(1061 1032.5) rotate(-28.9)" class="wm" font-size="49.4">RDMi<tspan font-size="31" dy="-15">®</tspan><tspan dy="15">现代TRIZ理论解决问题的路线图</tspan></text>
</svg>
</body>
</html>
